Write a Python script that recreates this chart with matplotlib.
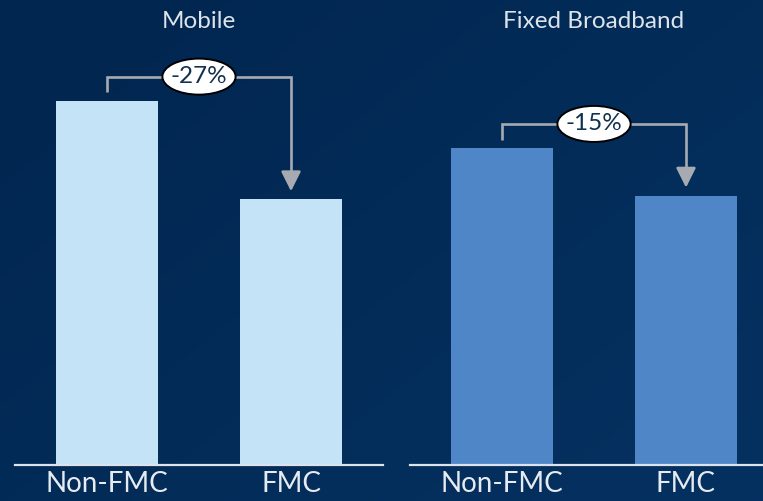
import matplotlib.pyplot as plt
import numpy as np
from matplotlib.patches import Ellipse

# bar heights (Non-FMC indexed to 100)
categories = ["Non-FMC", "FMC"]
mobile = [100, 73]
broadband = [87, 74]
panel_titles = ["Mobile", "Fixed Broadband"]
changes = ["-27%", "-15%"]
bar_colors = ["#c5e3f6", "#4e86c7"]

plt.rcParams['font.family'] = ['Lato', 'DejaVu Sans']

W, H = 763, 501
fig = plt.figure(figsize=(W / 100, H / 100), dpi=100)

# navy gradient background
bg = fig.add_axes([0, 0, 1, 1], zorder=-10)
yy, xx = np.mgrid[0:1:200j, 0:1:300j]
t = 0.55 * xx + 0.45 * yy
c0 = np.array([0x01, 0x26, 0x4f]) / 255
c1 = np.array([0x05, 0x31, 0x61]) / 255
img = c0 + (c1 - c0) * t[..., None]
bg.imshow(img, aspect='auto', extent=[0, 1, 0, 1], origin='upper')
bg.axis('off')

base_y = 36 / H
ax_h = 1 - base_y
ymax = 465 / 3.64

axes_x = [15, 410]
for k, (vals, title, chg, col) in enumerate(zip([mobile, broadband], panel_titles, changes, bar_colors)):
    ax = fig.add_axes([axes_x[k] / W, base_y, 368 / W, ax_h])
    ax.set_facecolor('none')
    x = np.arange(len(categories))
    ax.bar(x, vals, width=0.553, color=col, zorder=2)
    ax.set_xlim(-0.5, 1.5)
    ax.set_ylim(0, ymax)

    for s in ['top', 'right', 'left']:
        ax.spines[s].set_visible(False)
    ax.spines['bottom'].set_color('#dce3ec')
    ax.spines['bottom'].set_linewidth(1.6)
    ax.set_yticks([])
    ax.set_xticks(x)
    ax.set_xticklabels(categories, fontsize=20, color='#e6ebf1')
    ax.tick_params(axis='x', length=0, pad=4)

    ax.text(0.5, 0.953, title, transform=ax.transAxes, ha='center', va='center',
            fontsize=17.5, color='#dde3ea')

    # bracket with arrow from first bar to second
    top = max(vals) + 6.7
    gray = '#a7aab1'
    ax.plot([0, 0, 1, 1], [vals[0] + 2.4, top, top, vals[1] + 6.0], color=gray,
            lw=1.9, solid_joinstyle='miter', solid_capstyle='butt', zorder=3)
    ax.annotate('', xy=(1, vals[1] + 2.2), xytext=(1, vals[1] + 6.5),
                arrowprops=dict(arrowstyle='-|>,head_length=0.6,head_width=0.3',
                                mutation_scale=20, color=gray, lw=1.9,
                                shrinkA=0, shrinkB=0), zorder=3)
    ax.add_patch(Ellipse((0.5, top), 0.398, 9.9, fc='white',
                         ec='black', lw=1.4, zorder=4))
    ax.text(0.5, top, chg, ha='center', va='center', fontsize=17.5,
            color='#12304f', zorder=5)

fig.savefig('out.png', dpi=100)
